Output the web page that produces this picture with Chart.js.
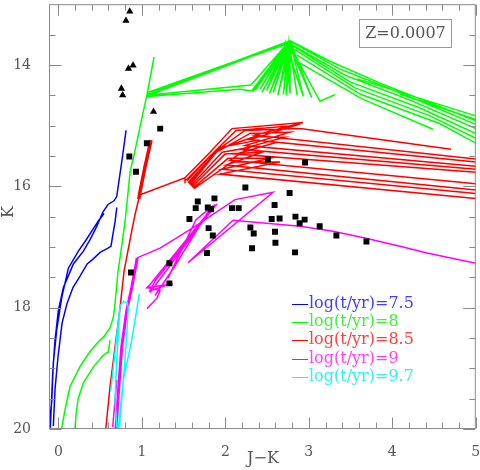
<!DOCTYPE html>
<html lang="en">
<head>
<meta charset="UTF-8">
<title>K vs J-K</title>
<script src="https://cdn.jsdelivr.net/npm/chart.js"></script>
<style>
  body { margin: 0; background: #fff; }
  #wrap { width: 480px; height: 470px; position: relative; }
</style>
</head>
<body>
<div id="wrap"><canvas id="cmd"></canvas></div>
<script>
// observed stars
const sqX = [1.22, 1.06, 0.85, 0.93, 1.67, 1.87, 1.57, 1.645, 1.79, 1.83, 2.08, 2.16, 1.80, 1.85,
  2.24, 1.78, 1.33, 1.33, 0.87, 2.77, 2.59, 2.555, 2.65, 2.30, 2.34, 2.595, 2.60, 2.32, 2.84,
  2.89, 2.95, 2.835, 3.13, 3.33, 3.69, 2.51, 2.955];
const sqY = [15.05, 15.29, 15.51, 15.76, 16.25, 16.20, 16.54, 16.36, 16.35, 16.38, 16.36, 16.36, 16.69, 16.81,
  16.02, 17.10, 17.27, 17.60, 17.42, 16.11, 16.31, 16.54, 16.53, 16.68, 16.78, 16.75, 16.93, 17.02, 16.50,
  16.61, 16.55, 17.09, 16.66, 16.81, 16.91, 15.56, 15.61];
const triX = [0.855, 0.81, 0.895, 0.84, 0.755, 0.77, 1.14];
const triY = [13.12, 13.27, 14.01, 14.06, 14.39, 14.50, 14.77];

// log(t/yr)=7.5
const blueA = [[0.811,15.08],[0.759,15.60],[0.699,16.17],[0.667,16.24],[0.595,16.30],[0.535,16.42],[0.46,16.66],
  [0.38,16.88],[0.30,17.07],[0.18,17.28],[0.06,17.67],[0.0,18.05],[-0.04,18.54],[-0.067,19.07],[-0.09,19.79],[-0.097,20.0]];
const blueB = [[0.70,16.35],[0.68,16.58],[0.655,16.78],[0.63,16.99],[0.595,17.02],[0.50,17.09],[0.415,17.20],
  [0.345,17.28],[0.26,17.48],[0.175,17.67],[0.104,17.93],[0.044,18.26],[-0.004,18.81],[-0.04,19.35],[-0.06,19.95]];
const blueC = [[0.547,16.45],[0.475,16.58],[0.40,16.74],[0.32,16.91],[0.24,17.07],[0.12,17.35],[0.04,17.84],
  [-0.02,18.37],[-0.06,18.91],[-0.08,19.56],[-0.10,19.79]];

// log(t/yr)=8
const greenRGB = [[1.146,13.87],[1.062,14.49],[1.014,14.79],[0.906,15.49],[0.879,15.64],[0.859,15.77],[0.799,16.58],
  [0.739,17.18],[0.715,17.40],[0.679,17.93],[0.66,18.15],[0.62,18.33],[0.55,18.47],[0.46,18.59],[0.36,18.76],
  [0.26,18.97],[0.14,19.30],[0.08,19.68],[0.04,19.99]];
const greenBranch = [[0.619,18.54],[0.599,18.73],[0.539,18.78],[0.419,18.98],[0.30,19.24],[0.236,19.51],[0.212,19.76],[0.20,20.0]];
const greenBand = [[1.062,14.49],[2.775,13.60],[1.062,14.51],[2.751,13.63],[1.062,14.46],[2.727,13.66]];
const greenBand2 = [[1.062,14.52],[2.176,14.40],[2.316,14.43]];
const greenFan = [[1.062,14.50],[2.308,14.33],[2.775,13.60],[2.316,14.43],[2.751,13.63],[2.356,14.42],[2.775,13.60],
  [2.416,14.40],[2.727,13.66],[2.496,14.42],[2.775,13.60],[2.575,14.46],[2.751,13.63],[2.695,14.49],[2.775,13.60],
  [2.775,14.47],[2.727,13.66],[2.934,14.52],[2.775,13.60],[3.035,14.54],[2.751,13.63],[3.134,14.60],[3.314,14.49]];
const greenFan2 = [[2.33,14.44],[2.763,13.62],[2.44,14.45],[2.787,13.62],[2.53,14.47],[2.763,13.62],[2.63,14.50],
  [2.787,13.64],[2.73,14.50],[2.763,13.62],[2.86,14.50]];
const greenD1 = [[2.775,13.60],[3.254,13.94],[3.853,14.30],[5.0,14.92]];
const greenD2 = [[2.775,13.61],[3.374,14.07],[4.092,14.46],[5.0,14.98]];
const greenD3 = [[2.775,13.65],[3.434,14.17],[4.212,14.58],[5.0,15.05]];
const greenD4 = [[2.799,13.68],[3.493,14.28],[4.332,14.71],[5.0,15.13]];
const greenD5 = [[2.823,13.74],[3.553,14.38],[4.451,14.84],[5.0,15.21]];
const greenD6 = [[2.859,13.84],[3.613,14.48],[4.571,14.97],[5.0,15.29]];
const greenD7 = [[2.895,13.97],[3.637,14.56],[4.487,15.06]];
const greenS1 = [[3.582,14.23],[5.0,14.84]];
const greenS2 = [[4.092,14.48],[5.0,14.90]];

// log(t/yr)=8.5
const redRGB = [[1.11,15.24],[1.038,15.68],[0.978,16.09],[0.963,16.21],[0.918,16.47],[0.879,16.74],[0.826,17.12],
  [0.787,17.40],[0.739,18.00],[0.679,18.65],[0.619,19.30],[0.58,19.84],[0.568,20.0]];
const redThick = [[1.11,15.24],[1.038,15.68],[0.978,16.09],[0.963,16.21]];
const redBranch = [[0.98,16.14],[1.517,15.86],[1.517,15.95]];
const red1 = [[1.517,15.86],[1.817,15.44],[2.08,15.05],[2.93,14.95],[2.355,15.16],[5.0,15.55]];
const red2 = [[1.529,15.90],[1.841,15.47],[2.128,15.08],[2.834,15.00],[2.296,15.23],[5.0,15.60]];
const red3 = [[1.541,15.91],[1.865,15.44],[2.236,15.08],[2.895,15.05],[4.703,15.39]];
const red4 = [[1.553,15.94],[1.889,15.44],[2.296,15.13],[2.775,15.11],[2.236,15.33],[5.0,15.67]];
const red5 = [[1.565,15.96],[1.913,15.39],[2.355,15.18],[2.715,15.19],[2.176,15.39],[5.0,15.72]];
const red6 = [[1.577,15.98],[1.937,15.36],[2.391,15.24],[2.607,15.28],[2.128,15.47],[5.0,15.77]];
const red7 = [[1.589,15.99],[1.961,15.44],[2.296,15.36],[2.056,15.57],[5.0,15.96]];
const red8 = [[1.601,16.01],[1.997,15.47],[2.44,15.44],[2.008,15.65],[5.0,16.06]];
const red9 = [[1.613,16.03],[2.032,15.54],[2.535,15.54],[1.96,15.72],[5.0,16.12]];
const red10 = [[1.625,16.04],[2.08,15.60],[2.655,15.60],[1.937,15.80],[5.0,16.20]];

// log(t/yr)=9
const magRGB = [[0.691,20.0],[0.719,19.40],[0.759,18.65],[0.819,18.05],[0.879,17.67],[0.939,17.23],[0.943,17.18]];
const magLoop = [[0.943,17.18],[1.218,17.02],[1.418,16.85],[1.637,16.66],[2.116,16.22],[2.571,16.10],[1.553,17.26],
  [2.092,16.56],[2.895,16.66],[3.29,16.74],[3.697,16.86],[4.092,16.99],[4.415,17.10],[5.002,17.27]];
const magB1 = [[1.373,17.61],[1.062,17.67],[1.098,17.62],[1.876,16.30]];
const magB2 = [[1.278,17.64],[1.098,17.72],[1.158,17.56],[1.90,16.29]];
const magB3 = [[1.062,18.02],[1.182,17.84],[1.218,17.72],[1.062,17.67]];
const magB4 = [[1.314,17.51],[1.649,16.55],[1.853,16.32]];
const magB5 = [[1.158,17.80],[1.398,17.31],[1.817,16.37]];
const magB6 = [[1.098,17.75],[1.601,16.82],[1.757,16.50]];
const magThin = [[0.651,19.97],[0.70,19.19]];

// log(t/yr)=9.7
const cyan1 = [[0.97,17.77],[0.879,18.54],[0.778,19.19],[0.719,19.99]];
const cyan2 = [[0.731,19.97],[0.799,18.86],[0.838,18.01],[0.826,17.92],[0.778,17.90],[0.739,17.97],[0.70,18.86],[0.679,19.51],[0.70,19.97]];
const cyan3 = [[0.628,19.37],[0.739,17.97]];

const legendLabels = ['log(t/yr)=7.5', 'log(t/yr)=8', 'log(t/yr)=8.5', 'log(t/yr)=9', 'log(t/yr)=9.7'];

const BLUE = '#0000ff', GREEN = '#00ff00', RED = '#ff0000', MAG = '#ff00ff', CYAN = '#00ffff';
const legendColors = [BLUE, GREEN, RED, MAG, CYAN];
const legendText = ['#4040ff', '#40f040', '#ff4040', '#ff40ff', '#30f0f0'];

function join(...segs) {
  const out = [];
  segs.forEach((s, i) => {
    if (i) out.push({ x: null, y: null });
    s.forEach(p => out.push({ x: p[0], y: p[1] }));
  });
  return out;
}
function line(data, color, width) {
  return { data: data, showLine: true, borderColor: color, borderWidth: width || 1.5,
    pointRadius: 0, tension: 0, spanGaps: false, fill: false };
}
// no extra room for end labels, the frame fills the canvas
function noPad(s) {
  s.paddingTop = 0; s.paddingBottom = 0; s.paddingLeft = 0; s.paddingRight = 0;
}

const frame = {
  id: 'frame',
  afterDatasetsDraw(chart) {
    const { ctx, chartArea: a, scales: { x, y } } = chart;
    ctx.save();
    ctx.strokeStyle = '#8a8a8a';
    ctx.lineWidth = 1;
    const L = a.left - 0.5, R = a.right - 0.5, T = a.top + 0.5, B = a.bottom - 0.5;
    ctx.strokeRect(L, T, R - L, B - T);
    ctx.beginPath();
    for (let i = 0; i <= 25; i++) {
      const px = Math.round(x.getPixelForValue(i / 5)) + 0.5;
      const len = i % 5 === 0 ? 11 : 6;
      ctx.moveTo(px, B); ctx.lineTo(px, B - len);
      ctx.moveTo(px, T); ctx.lineTo(px, T + len);
    }
    for (let i = 27; i <= 40; i++) {
      const v = i / 2;
      const py = Math.round(y.getPixelForValue(v)) + 0.5;
      const len = v % 2 === 0 ? 12 : 6;
      ctx.moveTo(L, py); ctx.lineTo(L + len, py);
      ctx.moveTo(R, py); ctx.lineTo(R - len, py);
    }
    ctx.stroke();

    // metallicity box
    ctx.strokeStyle = '#9a9a9a';
    ctx.strokeRect(359.5, 19.5, 92, 28);
    ctx.fillStyle = '#555';
    ctx.font = '16px "DejaVu Serif"';
    ctx.textAlign = 'center';
    ctx.textBaseline = 'middle';
    ctx.fillText('Z=0.0007', 405.5, 34);

    // axis titles
    ctx.fillText('J\u2212K', 263, 459);
    ctx.save();
    ctx.translate(9, 212);
    ctx.rotate(-Math.PI / 2);
    ctx.fillText('K', 0, 0);
    ctx.restore();

    // legend
    ctx.textAlign = 'left';
    legendLabels.forEach((t, i) => {
      const yy = 303.5 + i * 18.4;
      ctx.strokeStyle = legendColors[i];
      ctx.beginPath();
      ctx.moveTo(292, Math.round(yy) + 0.5); ctx.lineTo(308, Math.round(yy) + 0.5);
      ctx.stroke();
      ctx.fillStyle = legendText[i];
      ctx.fillText(t, 309, yy);
    });
    ctx.restore();
  }
};

new Chart(document.getElementById('cmd'), {
  type: 'scatter',
  data: {
    datasets: [
      { data: sqX.map((v, i) => ({ x: v, y: sqY[i] })), pointStyle: 'rect', pointRadius: 4.2,
        pointBackgroundColor: '#000', pointBorderWidth: 0 },
      { data: triX.map((v, i) => ({ x: v, y: triY[i] })), pointStyle: 'triangle', pointRadius: 4.2,
        pointBackgroundColor: '#000', pointBorderWidth: 0 },
      line(join(cyan1, cyan2, cyan3), CYAN),
      line(join(magRGB), MAG, 3),
      line(join(magLoop, magThin, magB1, magB2, magB3, magB4, magB5, magB6), MAG),
      line(join(redThick), RED, 3.5),
      line(join(redRGB, redBranch, red1, red2, red3, red4, red5, red6, red7, red8, red9, red10), RED),
      line(join(greenRGB, greenBranch, greenBand, greenBand2, greenFan, greenFan2, greenD1, greenD2, greenD3,
        greenD4, greenD5, greenD6, greenD7, greenS1, greenS2), GREEN),
      line(join(blueA, blueB, blueC), BLUE)
    ]
  },
  options: {
    responsive: true,
    maintainAspectRatio: false,
    animation: false,
    layout: { padding: { left: 0, right: 4, top: 0, bottom: 0 } },
    plugins: { legend: { display: false }, tooltip: { enabled: false } },
    scales: {
      x: {
        type: 'linear', min: -0.1, max: 5,
        afterBuildTicks: s => { s.ticks = [0, 1, 2, 3, 4, 5].map(v => ({ value: v })); },
        afterFit: s => { s.height = 41; noPad(s); },
        grid: { display: false }, border: { display: false },
        ticks: { color: '#555', padding: 7, font: { family: 'DejaVu Serif', size: 14 } }
      },
      y: {
        type: 'linear', reverse: true, min: 13, max: 20,
        afterBuildTicks: s => { s.ticks = [14, 16, 18, 20].map(v => ({ value: v })); },
        afterFit: s => { s.width = 50; noPad(s); },
        grid: { display: false }, border: { display: false },
        ticks: { color: '#555', padding: 11, font: { family: 'DejaVu Serif', size: 14 } }
      }
    }
  },
  plugins: [frame]
});
</script>
</body>
</html>
